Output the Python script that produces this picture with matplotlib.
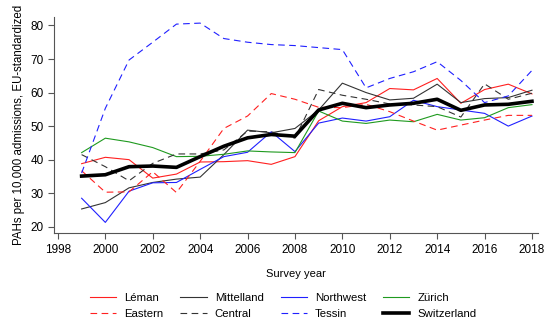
import matplotlib
matplotlib.use('Agg')
import matplotlib.pyplot as plt

plt.rcParams['font.family'] = ['Liberation Sans', 'DejaVu Sans']

years = list(range(1999, 2019))

leman = [38.8, 40.7, 40.0, 34.5, 35.7, 39.3, 39.4, 39.7, 38.6, 40.9,
         51.6, 55.8, 57.0, 61.2, 60.8, 64.2, 56.8, 60.9, 62.5, 59.6]
mittelland = [25.3, 27.2, 31.6, 33.2, 34.2, 34.8, 41.5, 48.8, 48.0, 49.3,
              54.8, 62.8, 60.0, 57.8, 58.3, 62.5, 57.0, 58.2, 58.5, 60.7]
northwest = [28.5, 21.3, 30.6, 33.1, 33.2, 37.1, 40.9, 42.2, 48.3, 42.4,
             50.9, 52.4, 51.5, 52.8, 57.7, 55.8, 54.8, 53.8, 50.0, 53.0]
zurich = [42.1, 46.4, 45.3, 43.6, 40.9, 41.0, 41.6, 42.6, 42.3, 42.1,
          54.5, 51.5, 50.8, 51.8, 51.3, 53.5, 51.8, 52.5, 55.5, 56.4]
eastern = [36.7, 30.3, 30.4, 36.4, 30.2, 39.5, 49.3, 53.0, 59.7, 58.0,
           55.6, 55.5, 56.5, 54.3, 51.5, 48.8, 50.3, 51.8, 53.2, 53.2]
central = [41.5, 37.9, 33.7, 38.9, 41.7, 41.7, 42.9, 48.5, 48.3, 46.4,
           60.9, 59.2, 58.0, 56.6, 56.3, 55.8, 52.7, 62.6, 58.0, 59.8]
tessin = [36.0, 55.3, 69.7, 75.0, 80.4, 80.7, 76.1, 75.0, 74.3, 74.0,
          73.4, 72.8, 61.4, 64.2, 66.2, 69.2, 63.6, 57.0, 59.0, 66.6]
switzerland = [35.1, 35.5, 37.9, 38.1, 37.7, 40.9, 44.0, 46.5, 47.5, 47.0,
               54.8, 56.8, 55.5, 56.3, 56.8, 58.0, 54.7, 56.3, 56.5, 57.4]

fig = plt.figure(figsize=(5.5, 3.22), dpi=100)
ax = fig.add_axes([0.098, 0.276, 0.88, 0.671])

dash = (0, (6, 4))
ax.plot(years, leman, color='#ff2020', lw=0.8, label='Léman')
ax.plot(years, mittelland, color='#333333', lw=0.8, label='Mittelland')
ax.plot(years, northwest, color='#2020ff', lw=0.8, label='Northwest')
ax.plot(years, zurich, color='#1f9a1f', lw=0.8, label='Zürich')
ax.plot(years, eastern, color='#ff2020', lw=0.8, ls=dash, label='Eastern')
ax.plot(years, central, color='#333333', lw=0.8, ls=dash, label='Central')
ax.plot(years, tessin, color='#2020ff', lw=0.8, ls=dash, label='Tessin')
ax.plot(years, switzerland, color='black', lw=2.6, label='Switzerland')

ax.set_xlim(1997.83, 2018.25)
ax.set_ylim(18.1, 82.5)
ax.set_xticks(range(1998, 2019, 2))
ax.set_yticks(range(20, 81, 10))
ax.tick_params(labelsize=8.5, length=4, width=0.8, color='#555555')
for s in ['top', 'right']:
    ax.spines[s].set_visible(False)
for s in ['left', 'bottom']:
    ax.spines[s].set_color('#555555')
    ax.spines[s].set_linewidth(0.8)

ax.set_xlabel('Survey year', fontsize=8, labelpad=10)
ax.set_ylabel('PAHs per 10,000 admissions, EU-standardized', fontsize=8.3, labelpad=4)

# legend order: row-wise in the picture, matplotlib fills column-wise
h, l = ax.get_legend_handles_labels()
order = [0, 4, 1, 5, 2, 6, 3, 7]
fig.legend([h[i] for i in order], [l[i] for i in order], ncol=4,
           loc='lower center', bbox_to_anchor=(0.515, -0.022), frameon=False,
           fontsize=8.2, handlelength=2.3, handletextpad=0.7,
           columnspacing=1.5, labelspacing=0.5)

fig.savefig('out.png', dpi=100)
